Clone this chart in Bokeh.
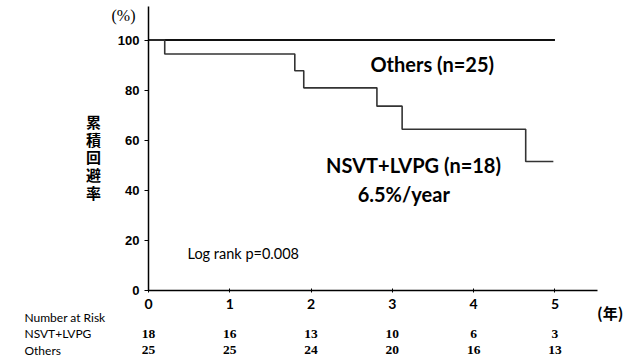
from bokeh.plotting import figure
from bokeh.models import Label, LabelSet, ColumnDataSource, FixedTicker, Range1d
from bokeh.embed import file_html
from bokeh.resources import INLINE

# ---- data ----
nsvt_t = [0, 0.2, 1.8, 1.91, 2.81, 3.12, 4.64, 4.98]
nsvt_s = [100, 94.4, 87.7, 80.9, 73.6, 64.4, 51.5, 51.5]
others_t = [0, 5.0]
others_s = [100, 100]

years = [0, 1, 2, 3, 4, 5]
risk_nsvt = ["18", "16", "13", "10", "6", "3"]
risk_others = ["25", "25", "24", "20", "16", "13"]
y_ticks = [0, 20, 40, 60, 80, 100]
y_title_chars = ["累", "積", "回", "避", "率"]

FONT = "Lato"

p = figure(width=640, height=360, output_backend="svg", toolbar_location=None,
           x_range=Range1d(-1.820, 6.052), y_range=Range1d(-27.94, 115.77),
           min_border=0)
p.outline_line_color = None
p.xgrid.visible = False
p.ygrid.visible = False
p.background_fill_color = "white"

# curves
p.step(others_t, others_s, mode="after", line_color="#111111", line_width=2)
p.step(nsvt_t, nsvt_s, mode="after", line_color="#333333", line_width=1.6)

# axes
xa = p.xaxis[0]
xa.fixed_location = 0
xa.bounds = (0, 5.52)
xa.ticker = FixedTicker(ticks=years)
xa.minor_tick_line_color = None
xa.major_tick_in = 2
xa.major_tick_out = 2
xa.axis_line_width = 1.5
xa.axis_line_color = "black"
xa.major_tick_line_color = "black"
xa.major_label_text_font = FONT
xa.major_label_text_font_style = "bold"
xa.major_label_text_font_size = "14px"
xa.major_label_text_color = "black"
xa.major_label_standoff = 6

ya = p.yaxis[0]
ya.fixed_location = 0
ya.bounds = (0, 113.5)
ya.ticker = FixedTicker(ticks=y_ticks)
ya.minor_tick_line_color = None
ya.major_tick_in = 0
ya.major_tick_out = 4
ya.axis_line_width = 1.5
ya.axis_line_color = "black"
ya.major_tick_line_color = "black"
ya.major_label_text_font = "Liberation Sans"
ya.major_label_text_font_style = "bold"
ya.major_label_text_font_size = "13px"
ya.major_label_text_color = "black"
ya.major_label_standoff = 5

# plot annotations
def lab(x, y, text, size, style="bold", align="center", baseline="middle", font=FONT):
    p.add_layout(Label(x=x, y=y, text=text, text_font=font, text_font_size=size,
                       text_font_style=style, text_align=align,
                       text_baseline=baseline, text_color="black"))

lab(3.49, 90.3, "Others (n=25)", "20px")
lab(3.26, 50.0, "NSVT+LVPG (n=18)", "20px")
lab(3.14, 38.5, "6.5%/year", "20px")
lab(0.48, 14.8, "Log rank p=0.008", "14.5px", style="normal", align="left")
lab(-0.307, 109.8, "(%)", "16px", font="Liberation Serif", style="normal")
lab(5.68, -8.8, "(年)", "15px", font="Noto Sans CJK JP")

for i, ch in enumerate(y_title_chars):
    lab(-0.677, 67.3 - i * 7.0, ch, "15px", font="Noto Sans CJK JP")

# number at risk
lab(-1.525, -10.8, "Number at Risk", "12px", style="normal", align="left")
lab(-1.525, -17.2, "NSVT+LVPG", "12px", style="normal", align="left")
lab(-1.525, -23.8, "Others", "12px", style="normal", align="left")

src_n = ColumnDataSource(dict(x=years, y=[-17.2] * len(years), t=risk_nsvt))
src_o = ColumnDataSource(dict(x=years, y=[-23.8] * len(years), t=risk_others))
for src in (src_n, src_o):
    p.add_layout(LabelSet(x="x", y="y", text="t", source=src, text_font=FONT,
                          text_font_size="13.5px", text_font_style="bold",
                          text_align="center", text_baseline="middle",
                          text_color="black"))

open("out.html", "w").write(file_html(p, INLINE))
